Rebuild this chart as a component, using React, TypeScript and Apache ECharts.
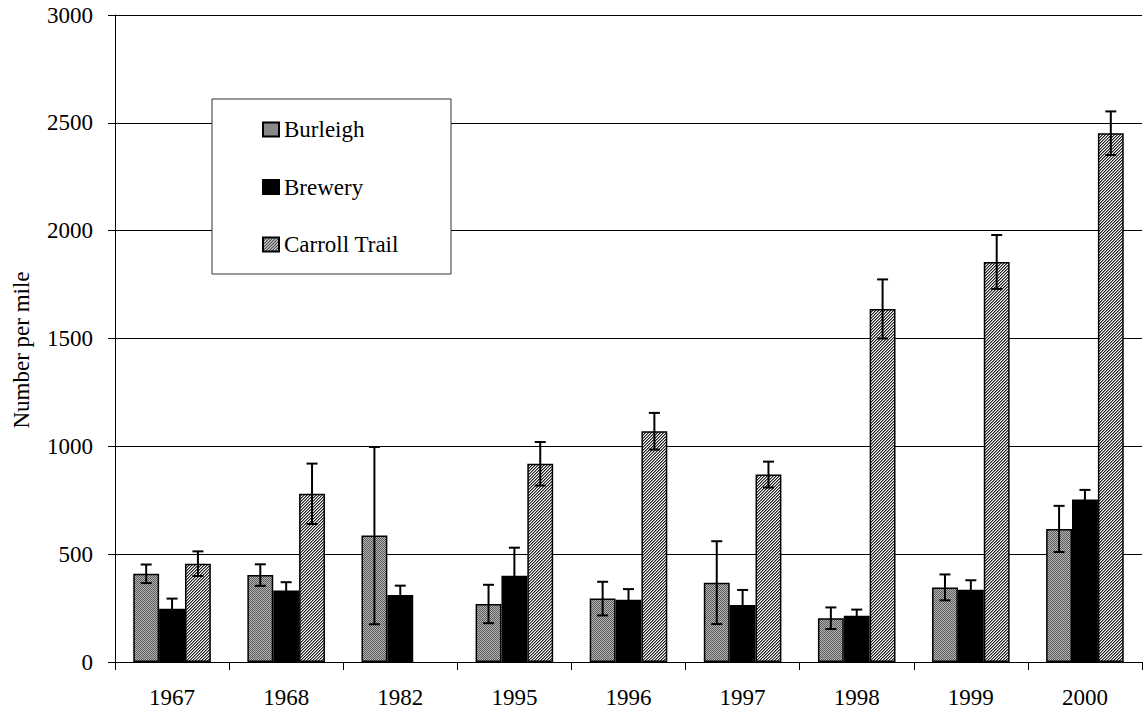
import React, { useEffect, useRef } from "react";
import * as echarts from "echarts";

const categories = ["1967", "1968", "1982", "1995", "1996", "1997", "1998", "1999", "2000"];
const burleigh = [409, 403, 586, 269, 294, 368, 203, 346, 617];
const burleighErr = [43, 50, 411, 89, 78, 192, 50, 60, 107];
const brewery = [247, 331, 311, 400, 289, 264, 215, 335, 754];
const breweryErr = [47, 39, 43, 130, 49, 70, 28, 44, 44];
const carroll: (number | null)[] = [456, 780, null, 919, 1070, 869, 1637, 1855, 2452];
const carrollErr: (number | null)[] = [57, 140, null, 101, 85, 60, 137, 125, 101];
const seriesNames = ["Burleigh", "Brewery", "Carroll Trail"];

const FONT = '"Liberation Serif", "Times New Roman", serif';
const CAT_GAP = 0.32;

function makeTile(kind: "check" | "hatch") {
  const n = kind === "check" ? 2 : 3;
  const c = document.createElement("canvas");
  c.width = n;
  c.height = n;
  const ctx = c.getContext("2d")!;
  for (let x = 0; x < n; x++) {
    for (let y = 0; y < n; y++) {
      let col: string;
      if (kind === "check") {
        col = (x + y) % 2 === 0 ? "#5c5c5c" : "#b4b4b4";
      } else {
        const k = (x + y) % 3;
        col = k === 0 ? "#222222" : k === 1 ? "#8a8a8a" : "#ffffff";
      }
      ctx.fillStyle = col;
      ctx.fillRect(x, y, 1, 1);
    }
  }
  return { image: c, repeat: "repeat", imageWidth: n, imageHeight: n } as any;
}

function errSeries(idx: number, vals: (number | null)[], errs: (number | null)[]) {
  const data: number[][] = [];
  vals.forEach((v, i) => {
    const e = errs[i];
    if (v != null && e != null) data.push([i, v - e, v + e]);
  });
  return {
    type: "custom",
    name: "err" + idx,
    silent: true,
    z: 10,
    encode: { x: 0, y: [1, 2] },
    data,
    renderItem: (params: any, api: any) => {
      const x = api.value(0);
      const lo = api.value(1);
      const hi = api.value(2);
      const catW = api.size([1, 0])[0];
      const barW = (catW * (1 - CAT_GAP)) / 3;
      const off = (idx - 1) * barW;
      const pHi = api.coord([x, hi]);
      const pLo = api.coord([x, lo]);
      const cx = pHi[0] + off;
      const cap = 5.5;
      const style = { stroke: "#000", lineWidth: 2 };
      return {
        type: "group",
        children: [
          { type: "line", shape: { x1: cx, y1: pHi[1], x2: cx, y2: pLo[1] }, style },
          { type: "line", shape: { x1: cx - cap, y1: pHi[1], x2: cx + cap, y2: pHi[1] }, style },
          { type: "line", shape: { x1: cx - cap, y1: pLo[1], x2: cx + cap, y2: pLo[1] }, style },
        ],
      };
    },
  };
}

export default function App() {
  const ref = useRef<HTMLDivElement>(null);
  useEffect(() => {
    if (!ref.current) return;
    const chart = echarts.init(ref.current, null, { renderer: "svg" });
    const checkPat = makeTile("check");
    const hatchPat = makeTile("hatch");
    const barStyle = (color: any) => ({ color, borderColor: "#000", borderWidth: 1.5 });
    chart.setOption({
      animation: false,
      backgroundColor: "#fff",
      textStyle: { fontFamily: FONT },
      grid: { left: 115, right: 1, top: 15, bottom: 50, containLabel: false },
      legend: {
        data: seriesNames,
        orient: "vertical",
        left: 262,
        top: 118,
        padding: 0,
        z: 20,
        icon: "rect",
        itemWidth: 16,
        itemHeight: 14,
        itemGap: 34.5,
        selectedMode: false,
        textStyle: { fontFamily: FONT, fontSize: 23, color: "#000" },
      },
      graphic: [
        {
          type: "rect",
          shape: { x: 212, y: 99, width: 239, height: 175 },
          style: { fill: "#fff", stroke: "#333", lineWidth: 1 },
          z: 1,
        },
        {
          type: "text",
          x: 21,
          y: 350,
          rotation: Math.PI / 2,
          style: {
            text: "Number per mile",
            font: `23px ${FONT}`,
            fill: "#000",
            textAlign: "center",
            textVerticalAlign: "middle",
          },
        },
      ],
      xAxis: {
        type: "category",
        data: categories,
        axisLine: { lineStyle: { color: "#000", width: 1 } },
        axisTick: { show: true, length: 8, lineStyle: { color: "#000" } },
        axisLabel: { color: "#000", fontSize: 23, fontFamily: FONT, margin: 24 },
      },
      yAxis: {
        type: "value",
        min: 0,
        max: 3000,
        interval: 500,
        axisLine: { show: true, lineStyle: { color: "#000", width: 1 } },
        axisTick: { show: true, length: 7, lineStyle: { color: "#000" } },
        axisLabel: {
          color: "#000",
          fontSize: 23,
          fontFamily: FONT,
          margin: 22,
          formatter: (v: number) => String(v),
        },
        splitLine: { show: true, lineStyle: { color: "#000", width: 1 } },
      },
      series: [
        {
          type: "bar",
          name: seriesNames[0],
          data: burleigh,
          barGap: "0%",
          barCategoryGap: "32%",
          z: 3,
          itemStyle: barStyle(checkPat),
        },
        {
          type: "bar",
          name: seriesNames[1],
          data: brewery,
          barGap: "0%",
          barCategoryGap: "32%",
          z: 3,
          itemStyle: barStyle("#000"),
        },
        {
          type: "bar",
          name: seriesNames[2],
          data: carroll.map((v) => (v == null ? "-" : v)),
          barGap: "0%",
          barCategoryGap: "32%",
          z: 3,
          itemStyle: barStyle(hatchPat),
        },
        errSeries(0, burleigh, burleighErr),
        errSeries(1, brewery, breweryErr),
        errSeries(2, carroll, carrollErr),
      ],
    });
    return () => chart.dispose();
  }, []);
  return <div ref={ref} style={{ width: 1143, height: 712, position: "absolute", left: 0, top: 0 }} />;
}
